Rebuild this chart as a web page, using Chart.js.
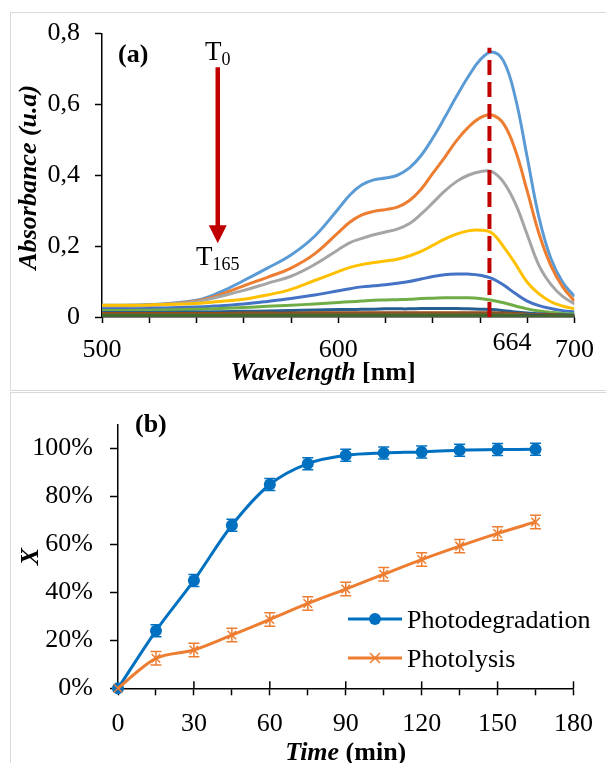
<!DOCTYPE html>
<html>
<head>
<meta charset="utf-8">
<script src="https://cdn.jsdelivr.net/npm/chart.js@4.4.1/dist/chart.umd.min.js"></script>
<style>
  html, body { margin: 0; padding: 0; background: #fff; width: 606px; height: 763px; overflow: hidden; }
  .panel { position: absolute; border: 1.5px solid #d9d9d9; box-sizing: border-box; }
  #panelA { left: 10px; top: 12px; width: 640px; height: 379px; }
  #panelB { left: 10px; top: 392px; width: 640px; height: 420px; }
  canvas { position: absolute; left: 0; }
  #chartA { top: 0; }
  #chartB { top: 392px; }
</style>
</head>
<body>
<div class="panel" id="panelA"></div>
<div class="panel" id="panelB"></div>
<canvas id="chartA" width="606" height="392"></canvas>
<canvas id="chartB" width="606" height="371"></canvas>
<script>
// (a) UV-vis spectra, one curve every 15 min
const wavelengths = [500, 520, 540, 550, 560, 570, 580, 590,
                     600, 605, 610, 615, 620, 625, 630, 635, 640, 645, 650, 655, 660, 665, 670, 675, 680, 685, 690, 695, 700];
const absT0   = [0.033, 0.035, 0.047, 0.070, 0.103, 0.138, 0.175, 0.228,
                 0.305, 0.345, 0.373, 0.387, 0.392, 0.400, 0.420, 0.455, 0.505, 0.562, 0.622, 0.678, 0.725, 0.748, 0.722, 0.618, 0.450, 0.280, 0.165, 0.098, 0.058];
const absT15  = [0.031, 0.033, 0.045, 0.063, 0.088, 0.112, 0.138, 0.178,
                 0.238, 0.268, 0.288, 0.298, 0.303, 0.310, 0.328, 0.360, 0.405, 0.450, 0.497, 0.535, 0.562, 0.570, 0.545, 0.470, 0.355, 0.235, 0.145, 0.085, 0.045];
const absT30  = [0.031, 0.033, 0.043, 0.058, 0.075, 0.095, 0.115, 0.148,
                 0.190, 0.210, 0.222, 0.232, 0.240, 0.248, 0.263, 0.290, 0.322, 0.355, 0.382, 0.400, 0.410, 0.410, 0.380, 0.320, 0.232, 0.145, 0.092, 0.058, 0.037];
const absT45  = [0.033, 0.034, 0.038, 0.044, 0.050, 0.062, 0.078, 0.103,
                 0.128, 0.140, 0.148, 0.154, 0.158, 0.163, 0.172, 0.185, 0.202, 0.220, 0.234, 0.243, 0.245, 0.237, 0.198, 0.150, 0.098, 0.065, 0.043, 0.031, 0.023];
const absT60  = [0.023, 0.024, 0.028, 0.032, 0.037, 0.044, 0.052, 0.062,
                 0.074, 0.080, 0.085, 0.088, 0.091, 0.095, 0.100, 0.107, 0.114, 0.119, 0.121, 0.121, 0.118, 0.109, 0.090, 0.066, 0.045, 0.032, 0.024, 0.018, 0.014];
const absT75  = [0.018, 0.019, 0.022, 0.024, 0.027, 0.030, 0.033, 0.037,
                 0.041, 0.043, 0.045, 0.047, 0.048, 0.049, 0.050, 0.052, 0.053, 0.054, 0.054, 0.054, 0.052, 0.047, 0.040, 0.031, 0.023, 0.017, 0.013, 0.010, 0.009];
const absT90  = [0.013, 0.013, 0.014, 0.015, 0.016, 0.017, 0.018, 0.020,
                 0.021, 0.021, 0.022, 0.022, 0.023, 0.023, 0.023, 0.024, 0.024, 0.024, 0.024, 0.023, 0.022, 0.021, 0.018, 0.014, 0.011, 0.009, 0.007, 0.006, 0.005];
const absT105 = [0.010, 0.010, 0.010, 0.010, 0.011, 0.011, 0.011, 0.012,
                 0.012, 0.012, 0.012, 0.012, 0.012, 0.012, 0.012, 0.012, 0.012, 0.012, 0.012, 0.012, 0.012, 0.012, 0.011, 0.010, 0.008, 0.007, 0.006, 0.005, 0.004];
const absT120 = [0.007, 0.007, 0.007, 0.007, 0.008, 0.008, 0.008, 0.008,
                 0.008, 0.008, 0.008, 0.008, 0.008, 0.008, 0.008, 0.008, 0.008, 0.008, 0.008, 0.008, 0.008, 0.008, 0.008, 0.007, 0.006, 0.005, 0.004, 0.004, 0.003];
const absT135 = [0.006, 0.006, 0.006, 0.006, 0.006, 0.006, 0.006, 0.006,
                 0.006, 0.006, 0.006, 0.006, 0.006, 0.006, 0.006, 0.006, 0.006, 0.006, 0.006, 0.006, 0.006, 0.006, 0.006, 0.005, 0.005, 0.004, 0.004, 0.003, 0.003];
const absT150 = [0.005, 0.005, 0.005, 0.005, 0.005, 0.005, 0.005, 0.005,
                 0.005, 0.005, 0.005, 0.005, 0.005, 0.005, 0.005, 0.005, 0.005, 0.005, 0.005, 0.005, 0.005, 0.005, 0.005, 0.004, 0.004, 0.004, 0.003, 0.003, 0.003];
const absT165 = [0.004, 0.004, 0.004, 0.004, 0.004, 0.004, 0.004, 0.004,
                 0.004, 0.004, 0.004, 0.004, 0.004, 0.004, 0.004, 0.004, 0.004, 0.004, 0.004, 0.004, 0.004, 0.004, 0.004, 0.004, 0.003, 0.003, 0.003, 0.002, 0.002];
const spectra = [absT0, absT15, absT30, absT45, absT60, absT75, absT90, absT105, absT120, absT135, absT150, absT165];
const spectraColors = ['#5B9BD5', '#ED7D31', '#A5A5A5', '#FFC000', '#4472C4', '#70AD47',
                       '#255E91', '#9E480E', '#636363', '#997300', '#264478', '#43682B'];
const peakWavelength = 664;
const peakLineTop = 0.76;
const absTicks = [0, 0.2, 0.4, 0.6, 0.8];

// (b) conversion vs time
const timeMin = [0, 15, 30, 45, 60, 75, 90, 105, 120, 135, 150, 165];
const photodegradation = [0, 24, 45, 68, 85, 93.7, 97.2, 98.2, 98.6, 99.3, 99.6, 99.7];
const photolysis = [0, 12.5, 16, 22.2, 28.7, 35.4, 41.4, 47.6, 53.7, 59.3, 64.6, 69.4];
const photodegradationErr = [0, 2.5, 2.5, 2.5, 2.5, 2.5, 2.5, 2.5, 2.5, 2.5, 2.5, 2.5];
const photolysisErr = [0, 2.8, 2.8, 2.8, 2.8, 2.8, 2.8, 2.8, 2.8, 2.8, 2.8, 2.8];

const FONT = 'Liberation Serif';
Chart.defaults.font.family = FONT;
Chart.defaults.color = '#000';

// draw text made of several styled runs, centred on cx
function drawRuns(ctx, runs, cx, y) {
    let total = 0;
    runs.forEach(r => { ctx.font = r.font; r.w = ctx.measureText(r.text).width; total += r.w; });
    let x = cx - total / 2;
    ctx.textAlign = 'left';
    runs.forEach(r => { ctx.font = r.font; ctx.fillText(r.text, x, y + (r.dy || 0)); x += r.w; });
}

const spectraDecor = {
    id: 'spectraDecor',
    afterDraw(chart) {
        const { ctx, scales: { x, y } } = chart;
        ctx.save();
        // arrow T0 -> T165
        const ax = x.getPixelForValue(549);
        const top = y.getPixelForValue(0.705);
        const tip = y.getPixelForValue(0.208);
        ctx.strokeStyle = '#C00000';
        ctx.fillStyle = '#C00000';
        ctx.lineWidth = 4.5;
        ctx.beginPath(); ctx.moveTo(ax, top); ctx.lineTo(ax, tip - 14); ctx.stroke();
        ctx.beginPath();
        ctx.moveTo(ax - 9, tip - 18); ctx.lineTo(ax + 9, tip - 18); ctx.lineTo(ax, tip);
        ctx.closePath(); ctx.fill();

        ctx.fillStyle = '#000';
        ctx.textBaseline = 'alphabetic';
        drawRuns(ctx, [{ text: 'T', font: '27px ' + FONT }, { text: '0', font: '18px ' + FONT, dy: 5 }], ax, top - 7);
        drawRuns(ctx, [{ text: 'T', font: '27px ' + FONT }, { text: '165', font: '18px ' + FONT, dy: 5 }], ax, tip + 22);

        // panel label and peak label
        ctx.font = 'bold 26px ' + FONT;
        ctx.textAlign = 'left';
        ctx.fillText('(a)', 118, 62);
        ctx.font = '26px ' + FONT;
        ctx.fillText(String(peakWavelength), x.getPixelForValue(peakWavelength) + 3, y.bottom + 33);

        // axis titles
        drawRuns(ctx, [{ text: 'Wavelength', font: 'italic bold 26px ' + FONT }, { text: ' [nm]', font: 'bold 26px ' + FONT }], 323, 380);
        ctx.translate(29, (y.top + y.bottom) / 2 + 2);
        ctx.rotate(-Math.PI / 2);
        ctx.textBaseline = 'middle';
        drawRuns(ctx, [{ text: 'Absorbance (u.a)', font: 'italic bold 26px ' + FONT }], 0, 0);
        ctx.restore();
    }
};

const spectraDatasets = spectra.map((arr, i) => ({
    label: 'T' + (i * 15),
    data: wavelengths.map((w, k) => ({ x: w, y: arr[k] })),
    borderColor: spectraColors[i],
    borderWidth: 3,
    pointRadius: 0,
    tension: 0.4,
    order: spectra.length - i
}));
spectraDatasets.push({
    label: 'peak',
    data: [{ x: peakWavelength, y: 0 }, { x: peakWavelength, y: peakLineTop }],
    borderColor: '#C00000',
    borderWidth: 4,
    borderDash: [15, 7],
    pointRadius: 0,
    tension: 0,
    order: -1
});

new Chart(document.getElementById('chartA'), {
    type: 'line',
    data: { datasets: spectraDatasets },
    options: {
        responsive: false,
        animation: false,
        devicePixelRatio: 1,
        layout: { padding: { left: 0, right: 28, top: 33.5, bottom: 0 } },
        plugins: { legend: { display: false }, tooltip: { enabled: false } },
        scales: {
            x: {
                type: 'linear', min: 500, max: 700,
                ticks: {
                    stepSize: 20, autoSkip: false, maxRotation: 0, padding: 12,
                    font: { size: 26 },
                    callback: v => (v % 100 === 0 ? String(v) : '')
                },
                grid: { drawOnChartArea: false, tickLength: 6, tickColor: '#000', tickWidth: 1.5 },
                border: { color: '#000', width: 1.5 },
                afterFit: s => { s.height = 75; }
            },
            y: {
                min: 0, max: 0.8,
                afterBuildTicks: s => { s.ticks = absTicks.map(v => ({ value: v })); },
                ticks: {
                    padding: 15, font: { size: 26 },
                    callback: v => (v === 0 ? '0' : v.toFixed(1).replace('.', ','))
                },
                grid: { drawOnChartArea: false, tickLength: 7, tickColor: '#000', tickWidth: 1.5 },
                border: { color: '#000', width: 1.5 },
                afterFit: s => { s.width = 102; }
            }
        }
    },
    plugins: [spectraDecor]
});

// (b)
const kineticsDecor = {
    id: 'kineticsDecor',
    afterDatasetsDraw(chart) {
        const { ctx, scales: { x, y } } = chart;
        ctx.save();
        // error bars
        [[photodegradation, photodegradationErr, '#0070C0'], [photolysis, photolysisErr, '#ED7D31']].forEach(([vals, errs, col]) => {
            ctx.strokeStyle = col;
            ctx.lineWidth = 1.5;
            vals.forEach((v, i) => {
                if (!errs[i]) return;
                const px = x.getPixelForValue(timeMin[i]);
                const y1 = y.getPixelForValue(v - errs[i]);
                const y2 = y.getPixelForValue(v + errs[i]);
                ctx.beginPath();
                ctx.moveTo(px, y1); ctx.lineTo(px, y2);
                ctx.moveTo(px - 5.5, y1); ctx.lineTo(px + 5.5, y1);
                ctx.moveTo(px - 5.5, y2); ctx.lineTo(px + 5.5, y2);
                ctx.stroke();
            });
        });
        ctx.restore();
    },
    afterDraw(chart) {
        const { ctx, scales: { x, y } } = chart;
        ctx.save();
        // major ticks cross the axis
        ctx.strokeStyle = '#000';
        ctx.lineWidth = 1.5;
        for (let t = 30; t <= 180; t += 30) {
            const px = x.getPixelForValue(t);
            ctx.beginPath(); ctx.moveTo(px, y.bottom); ctx.lineTo(px, y.bottom - 7); ctx.stroke();
        }

        // legend
        const legendItems = [
            { label: 'Photodegradation', color: '#0070C0', marker: 'circle', y: 227 },
            { label: 'Photolysis', color: '#ED7D31', marker: 'cross', y: 266 }
        ];
        legendItems.forEach(item => {
            ctx.strokeStyle = item.color;
            ctx.fillStyle = item.color;
            ctx.lineWidth = 3;
            ctx.beginPath(); ctx.moveTo(348, item.y); ctx.lineTo(402, item.y); ctx.stroke();
            if (item.marker === 'circle') {
                ctx.beginPath(); ctx.arc(375, item.y, 6, 0, Math.PI * 2); ctx.fill();
            } else {
                ctx.lineWidth = 1.5;
                ctx.beginPath();
                ctx.moveTo(370, item.y - 5); ctx.lineTo(380, item.y + 5);
                ctx.moveTo(380, item.y - 5); ctx.lineTo(370, item.y + 5);
                ctx.stroke();
            }
            ctx.fillStyle = '#000';
            ctx.font = '26px ' + FONT;
            ctx.textAlign = 'left';
            ctx.textBaseline = 'alphabetic';
            ctx.fillText(item.label, 407, item.y + 9);
        });

        // panel label and titles
        ctx.font = 'bold 26px ' + FONT;
        ctx.fillText('(b)', 135, 40);
        drawRuns(ctx, [{ text: 'Time', font: 'italic bold 26px ' + FONT }, { text: ' (min)', font: 'bold 26px ' + FONT }], (x.left + x.right) / 2, 368);
        ctx.translate(31, 164.5);
        ctx.rotate(-Math.PI / 2);
        ctx.textBaseline = 'middle';
        drawRuns(ctx, [{ text: 'X', font: 'italic bold 26px ' + FONT }], 0, 0);
        ctx.restore();
    }
};

new Chart(document.getElementById('chartB'), {
    type: 'line',
    data: {
        datasets: [{
            label: 'Photodegradation',
            data: timeMin.map((t, i) => ({ x: t, y: photodegradation[i] })),
            borderColor: '#0070C0',
            backgroundColor: '#0070C0',
            borderWidth: 3,
            pointStyle: 'circle',
            pointRadius: 6,
            pointBorderWidth: 0,
            tension: 0.33,
            order: 1
        }, {
            label: 'Photolysis',
            data: timeMin.map((t, i) => ({ x: t, y: photolysis[i] })),
            borderColor: '#ED7D31',
            backgroundColor: '#ED7D31',
            borderWidth: 3,
            pointStyle: 'crossRot',
            pointRadius: 6,
            pointBorderWidth: 1.5,
            tension: 0.33,
            order: 0
        }]
    },
    options: {
        responsive: false,
        animation: false,
        devicePixelRatio: 1,
        clip: false,
        layout: { padding: { left: 0, right: 27, top: 32.3, bottom: 0 } },
        plugins: { legend: { display: false }, tooltip: { enabled: false } },
        scales: {
            x: {
                type: 'linear', min: 0, max: 180,
                ticks: {
                    stepSize: 15, autoSkip: false, maxRotation: 0, padding: 13,
                    font: { size: 26 },
                    callback: v => (v % 30 === 0 ? String(v) : '')
                },
                grid: { drawOnChartArea: false, tickLength: 7, tickColor: '#000', tickWidth: 1.5 },
                border: { color: '#000', width: 1.5 },
                afterFit: s => { s.height = 74.7; }
            },
            y: {
                min: 0, max: 110,
                ticks: { stepSize: 20, includeBounds: false, padding: 17, font: { size: 26 }, callback: v => v + '%' },
                grid: { drawOnChartArea: false, tickLength: 8, tickColor: '#000', tickWidth: 1.5 },
                border: { color: '#000', width: 1.5 },
                afterFit: s => { s.width = 118; }
            }
        }
    },
    plugins: [kineticsDecor]
});
</script>
</body>
</html>
